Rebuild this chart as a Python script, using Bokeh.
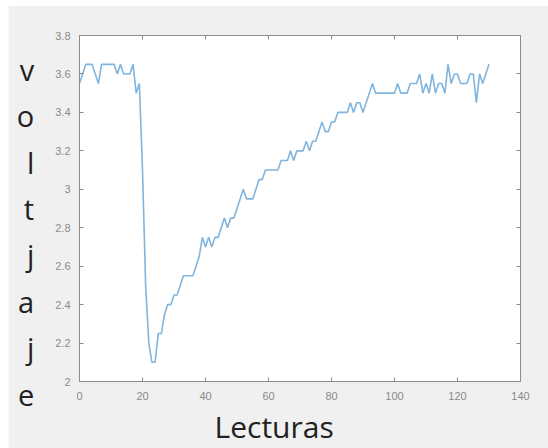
from bokeh.plotting import figure
from bokeh.models import Range1d, LinearAxis, Title, FixedTicker, Spacer
from bokeh.layouts import row, column
from bokeh.embed import file_html
from bokeh.resources import INLINE

lecturas = list(range(0, 131))
voltaje = [
    3.55, 3.60, 3.65, 3.65, 3.65, 3.60, 3.55, 3.65, 3.65, 3.65,
    3.65, 3.65, 3.60, 3.65, 3.60, 3.60, 3.60, 3.65, 3.50, 3.55,
    3.10, 2.50, 2.20, 2.10, 2.10, 2.25, 2.25, 2.35, 2.40, 2.40,
    2.45, 2.45, 2.50, 2.55, 2.55, 2.55, 2.55, 2.60, 2.65, 2.75,
    2.70, 2.75, 2.70, 2.75, 2.75, 2.80, 2.85, 2.80, 2.85, 2.85,
    2.90, 2.95, 3.00, 2.95, 2.95, 2.95, 3.00, 3.05, 3.05, 3.10,
    3.10, 3.10, 3.10, 3.10, 3.15, 3.15, 3.15, 3.20, 3.15, 3.20,
    3.20, 3.20, 3.25, 3.20, 3.25, 3.25, 3.30, 3.35, 3.30, 3.30,
    3.35, 3.35, 3.40, 3.40, 3.40, 3.40, 3.45, 3.40, 3.45, 3.45,
    3.40, 3.45, 3.50, 3.55, 3.50, 3.50, 3.50, 3.50, 3.50, 3.50,
    3.50, 3.55, 3.50, 3.50, 3.50, 3.55, 3.55, 3.55, 3.60, 3.50,
    3.55, 3.50, 3.60, 3.50, 3.55, 3.55, 3.50, 3.65, 3.55, 3.60,
    3.60, 3.55, 3.55, 3.55, 3.60, 3.60, 3.45, 3.60, 3.55, 3.60,
    3.65,
]
x_ticks = [0, 20, 40, 60, 80, 100, 120, 140]
y_ticks = [2.0, 2.2, 2.4, 2.6, 2.8, 3.0, 3.2, 3.4, 3.6, 3.8]
y_tick_labels = {2.0: "2", 2.2: "2.2", 2.4: "2.4", 2.6: "2.6", 2.8: "2.8",
                 3.0: "3", 3.2: "3.2", 3.4: "3.4", 3.6: "3.6", 3.8: "3.8"}
y_title_letters = ["v", "o", "l", "t", "j", "a", "j", "e"]
x_title = "Lecturas"

W, H = 540, 443
p = figure(width=W, height=H, output_backend="svg", toolbar_location=None,
           x_range=Range1d(0, 140), y_range=Range1d(2, 3.8),
           min_border_left=71, min_border_right=28, min_border_top=30,
           min_border_bottom=65)
p.background_fill_color = "white"
p.border_fill_color = "#f0f0f0"
p.outline_line_color = "#8c8c8c"
p.xgrid.visible = False
p.ygrid.visible = False

grey = "#8c8c8c"
def style(ax, labels=True):
    ax.axis_line_color = grey
    ax.major_tick_line_color = grey
    ax.major_tick_in = 4
    ax.major_tick_out = 0
    ax.minor_tick_line_color = None
    ax.major_label_text_color = "#8a8a8a" if labels else None
    ax.major_label_text_font = "Liberation Sans"
    ax.major_label_text_font_size = "11px"

p.xaxis.ticker = FixedTicker(ticks=x_ticks)
p.yaxis.ticker = FixedTicker(ticks=y_ticks)
p.yaxis.major_label_overrides = y_tick_labels
style(p.xaxis[0]); style(p.yaxis[0])
p.xaxis.major_label_standoff = 10
p.yaxis.major_label_standoff = 9

# stacked-letter y title via the y axis label
yax = p.yaxis[0]
yax.axis_label = "\n" + "\n".join(y_title_letters)
yax.axis_label_orientation = "horizontal"
yax.axis_label_text_font = "Open Sans"
yax.axis_label_text_font_style = "normal"
yax.axis_label_text_font_size = "29px"
yax.axis_label_text_line_height = 1.19
yax.axis_label_text_color = "#222222"
yax.axis_label_text_align = "center"
yax.axis_label_standoff = 18

top = LinearAxis(ticker=FixedTicker(ticks=x_ticks))
right = LinearAxis(ticker=FixedTicker(ticks=y_ticks))
style(top, False); style(right, False)
top.major_label_text_font_size = "0px"
right.major_label_text_font_size = "0px"
top.major_label_standoff = 0
right.major_label_standoff = 0
p.add_layout(top, "above")
p.add_layout(right, "right")

p.line(lecturas, voltaje, line_color="#7fb5de", line_width=1.6)

p.add_layout(Title(text=x_title, align="left", offset=135, standoff=3,
                   text_font="Open Sans", text_font_size="30px",
                   text_font_style="normal", text_color="#222222"), "below")

layout = column(Spacer(height=5, width=548), row(Spacer(width=8, height=H), p))
open("out.html", "w").write(file_html(layout, INLINE))
